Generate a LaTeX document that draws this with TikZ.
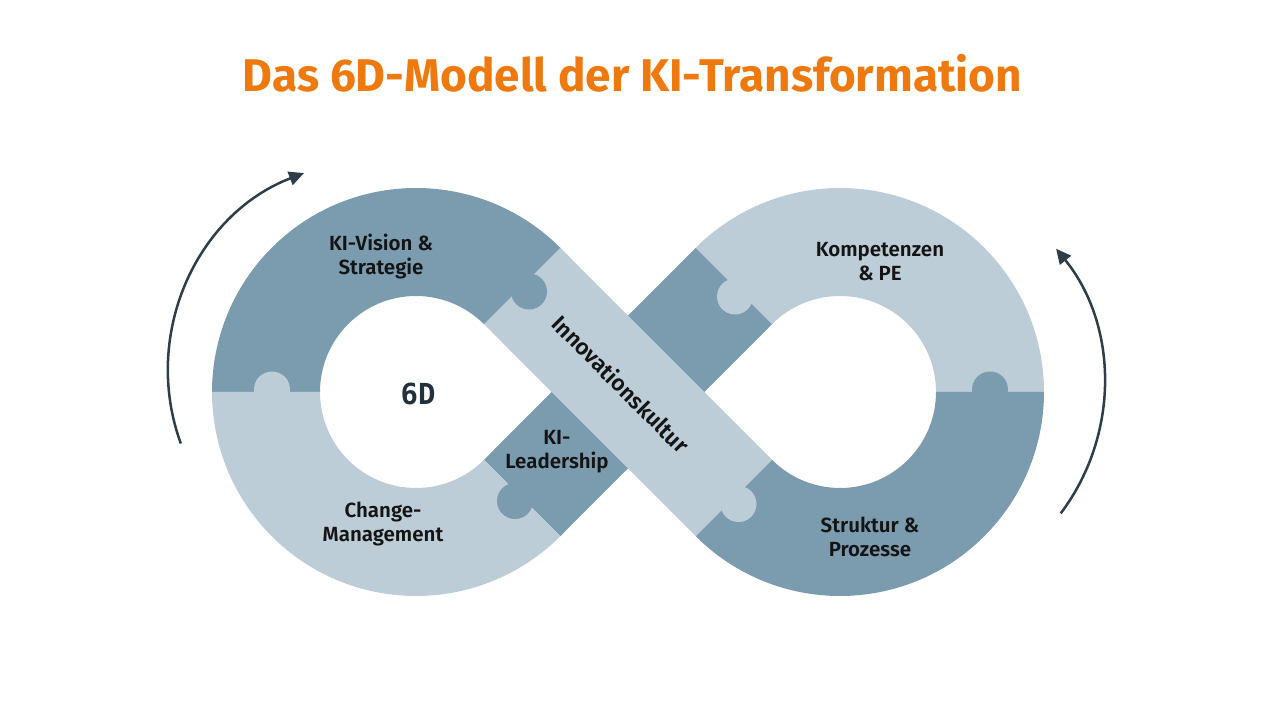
\documentclass[tikz,border=0pt]{standalone}
\usepackage{fontspec}
\setmainfont{Fira Sans}[BoldFont={Fira Sans SemiBold}]
\newfontfamily\titlefont{Fira Sans}[UprightFont={* Bold}]
\newfontfamily\monofont{DejaVu Sans Mono}
\usetikzlibrary{arrows.meta}
\definecolor{darkpiece}{HTML}{7B9CAF}
\definecolor{lightpiece}{HTML}{BCCDD8}
\definecolor{titleorange}{HTML}{EE7A0F}
\definecolor{arrowgray}{HTML}{2E3E48}
\definecolor{labelblack}{HTML}{141414}
\definecolor{sixd}{HTML}{22313C}
\begin{document}
\begin{tikzpicture}[x=1pt,y=1pt,
  lbl/.style={font=\fontsize{20.5}{24}\selectfont\bfseries, text=labelblack, align=center, inner sep=0pt},
  cyc/.style={draw=arrowgray, line width=2.5pt, -{Triangle[length=15pt,width=14pt]}},
  knob/.style={radius=18pt}
]
\useasboundingbox (0,0) rectangle (1285,704);
% crossing bands
\fill[darkpiece] (560.25,167.75) -- (772.12,379.88) -- (695.75,456.25) -- (483.88,244.12) -- cycle;
\fill[lightpiece] (560.25,456.25) -- (772.12,244.12) -- (695.75,167.75) -- (483.88,379.88) -- cycle;
% left ring
\fill[darkpiece] (560.25,456.25) arc[start angle=45,end angle=180,radius=204pt] -- (320,312) arc[start angle=180,end angle=45,radius=96pt] -- cycle;
\fill[lightpiece] (212,312) arc[start angle=180,end angle=315,radius=204pt] -- (483.88,244.12) arc[start angle=315,end angle=180,radius=96pt] -- cycle;
% right ring
\fill[lightpiece] (1044,312) arc[start angle=0,end angle=135,radius=204pt] -- (772.12,379.88) arc[start angle=135,end angle=0,radius=96pt] -- cycle;
\fill[darkpiece] (695.75,167.75) arc[start angle=225,end angle=360,radius=204pt] -- (936,312) arc[start angle=360,end angle=225,radius=96pt] -- cycle;
% puzzle knobs
\fill[lightpiece] (272,314.5) circle[knob];
\fill[darkpiece] (990,314.5) circle[knob];
\fill[darkpiece] (529,412.5) circle[knob];
\fill[lightpiece] (738.5,200) circle[knob];
\fill[darkpiece] (515,203) circle[knob];
\fill[lightpiece] (735,407.5) circle[knob];
% cycle arrows
\draw[cyc] (180.8,260.5) arc[start angle=200,end angle=111,radius=212pt];
\draw[cyc] (1060.7,190.6) arc[start angle=-37,end angle=39,radius=215pt];
% title
\node[anchor=base, text=titleorange, inner sep=0pt] (title) at (632.5,612) {\resizebox{779pt}{!}{\titlefont Das 6D-Modell der KI-Transformation}};
% labels
\node[lbl] (vision) at (381,447.5) {KI-Vision \&\\Strategie};
\node[lbl] (kompetenz) at (880,442.5) {Kompetenzen\\\& PE};
\node[lbl] (change) at (383,179.5) {Change-\\Management};
\node[lbl] (struktur) at (870,167.5) {Struktur \&\\Prozesse};
\node[lbl] (leader) at (557,252.5) {KI-\\Leadership};
\node[lbl, font=\fontsize{22.5}{26}\selectfont\bfseries, rotate=-45] (innovation) at (621,320) {Innovationskultur};
\node[font=\monofont\bfseries\fontsize{29}{34}\selectfont, text=sixd, inner sep=0pt] (sixd) at (418,310) {6D};
\end{tikzpicture}
\end{document}
